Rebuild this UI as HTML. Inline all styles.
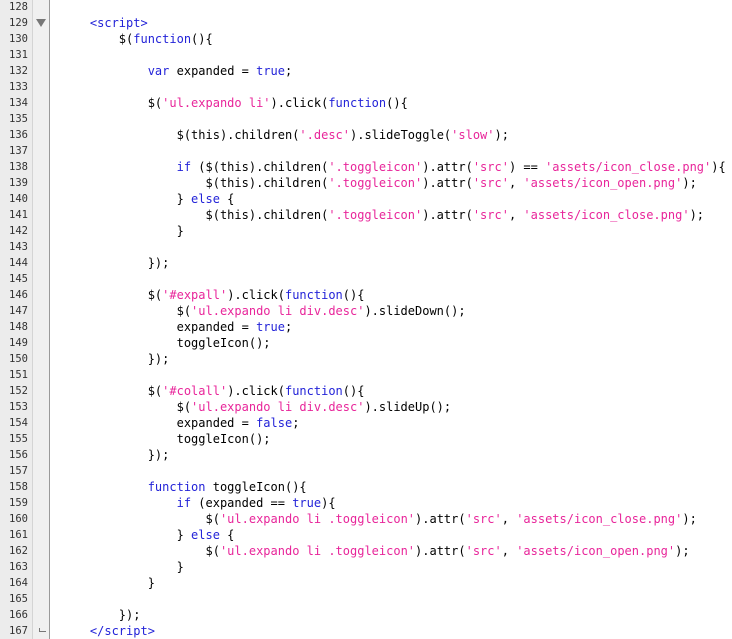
<!DOCTYPE html>
<html><head><meta charset="utf-8"><style>
html,body{margin:0;padding:0;width:732px;height:639px;overflow:hidden;background:#fff;}
#g{position:absolute;left:0;top:0;width:32px;height:639px;background:#ececec;border-right:1px solid #d4d4d4;}
#f{position:absolute;left:33px;top:0;width:16px;height:639px;background:#f0f0f0;border-right:1px solid #9a9a9a;}
pre{margin:0;position:absolute;top:-1px;font-family:"DejaVu Sans Mono","Liberation Mono",monospace;font-size:12px;line-height:16px;}
#n{left:0;width:28px;text-align:right;font-size:10.5px;color:#333;}
#c{left:61px;color:#000;}
.k{color:#2323d8}.s{color:#e8259a}
.tri{position:absolute;left:36px;top:19px;width:0;height:0;border-left:5px solid transparent;border-right:5px solid transparent;border-top:8px solid #777;}
.end{position:absolute;left:39px;top:628px;width:6px;height:3px;border-left:1px solid #777;border-bottom:1px solid #777;}
</style></head><body>
<div id="g"></div><div id="f"></div>
<div class="tri"></div><div class="end"></div>
<pre id="n">128
129
130
131
132
133
134
135
136
137
138
139
140
141
142
143
144
145
146
147
148
149
150
151
152
153
154
155
156
157
158
159
160
161
162
163
164
165
166
167</pre>
<pre id="c">&#8203;
    <span class="k">&lt;script&gt;</span>
        $(<span class="k">function</span>(){

            <span class="k">var</span> expanded = <span class="k">true</span>;

            $(<span class="s">'ul.expando li'</span>).click(<span class="k">function</span>(){

                $(this).children(<span class="s">'.desc'</span>).slideToggle(<span class="s">'slow'</span>);

                <span class="k">if</span> ($(this).children(<span class="s">'.toggleicon'</span>).attr(<span class="s">'src'</span>) == <span class="s">'assets/icon_close.png'</span>){
                    $(this).children(<span class="s">'.toggleicon'</span>).attr(<span class="s">'src'</span>, <span class="s">'assets/icon_open.png'</span>);
                } <span class="k">else</span> {
                    $(this).children(<span class="s">'.toggleicon'</span>).attr(<span class="s">'src'</span>, <span class="s">'assets/icon_close.png'</span>);
                }

            });

            $(<span class="s">'#expall'</span>).click(<span class="k">function</span>(){
                $(<span class="s">'ul.expando li div.desc'</span>).slideDown();
                expanded = <span class="k">true</span>;
                toggleIcon();
            });

            $(<span class="s">'#colall'</span>).click(<span class="k">function</span>(){
                $(<span class="s">'ul.expando li div.desc'</span>).slideUp();
                expanded = <span class="k">false</span>;
                toggleIcon();
            });

            <span class="k">function</span> toggleIcon(){
                <span class="k">if</span> (expanded == <span class="k">true</span>){
                    $(<span class="s">'ul.expando li .toggleicon'</span>).attr(<span class="s">'src'</span>, <span class="s">'assets/icon_close.png'</span>);
                } <span class="k">else</span> {
                    $(<span class="s">'ul.expando li .toggleicon'</span>).attr(<span class="s">'src'</span>, <span class="s">'assets/icon_open.png'</span>);
                }
            }

        });
    <span class="k">&lt;/script&gt;</span></pre>
</body></html>
